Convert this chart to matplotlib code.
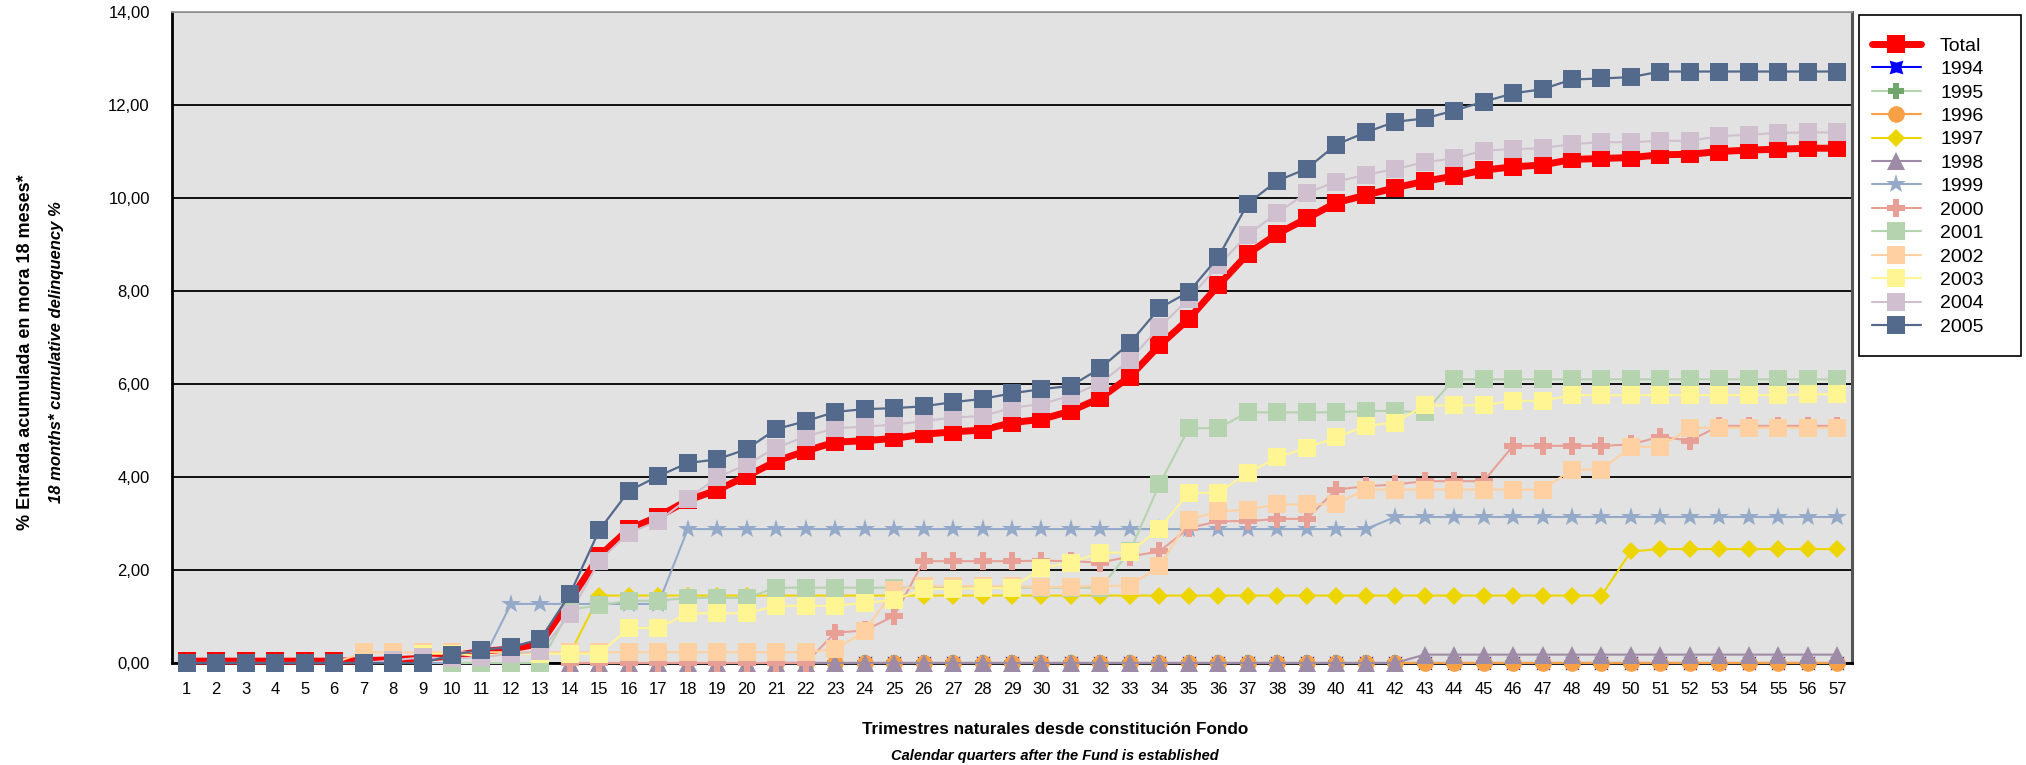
import numpy as np
import matplotlib
matplotlib.use("Agg")
import matplotlib.pyplot as plt
from matplotlib.patches import Rectangle

plt.rcParams['font.family'] = ['Liberation Sans', 'DejaVu Sans']

nan = np.nan
quarters = list(range(1, 58))

total = [0.04, 0.04, 0.04, 0.04, 0.04, 0.04, 0.05, 0.07, 0.10, 0.15,
         0.25, 0.30, 0.42, 1.35, 2.30, 2.88, 3.15, 3.50, 3.72, 4.02,
         4.34, 4.56, 4.75, 4.78, 4.83, 4.92, 4.97, 5.01, 5.17, 5.24,
         5.42, 5.70, 6.16, 6.83, 7.40, 8.12, 8.80, 9.23, 9.56, 9.90,
         10.06, 10.22, 10.36, 10.47, 10.60, 10.67, 10.71, 10.83, 10.85, 10.87,
         10.93, 10.94, 11.00, 11.03, 11.05, 11.07, 11.07]

y1994 = [nan] * 20 + [0.0] * 37
y1995 = [nan] * 20 + [0.0] * 37
y1996 = [nan] * 20 + [0.0] * 37
y1997 = [nan] * 13 + [0.20, 1.45] + [1.45] * 34 + [2.40] + [2.45] * 7
y1998 = [nan] * 13 + [0.0] * 29 + [0.18] * 15
y1999 = [0.0] * 11 + [1.27] * 6 + [2.88] * 24 + [3.14] * 16
y2000 = ([nan] * 13 + [0.0] * 9 +
         [0.65, 0.70, 1.01, 2.19, 2.19, 2.19, 2.19, 2.20, 2.19, 2.16,
          2.29, 2.40, 2.90, 3.05, 3.05, 3.10, 3.10, 3.73, 3.80, 3.84,
          3.91, 3.91, 3.91, 4.67, 4.67, 4.67, 4.67, 4.70, 4.87, 4.78,
          5.10, 5.10, 5.10, 5.10, 5.10])
y2001 = ([nan] * 9 + [0.0] * 4 +
         [1.15, 1.24, 1.34, 1.34, 1.40, 1.40, 1.40, 1.62, 1.62, 1.62,
          1.62, 1.62, 1.62, 1.62, 1.62, 1.62, 1.62, 1.62, 1.62, 2.40,
          3.84, 5.05, 5.05, 5.39, 5.39, 5.39, 5.39, 5.42, 5.42, 5.39] +
         [6.10] * 14)
y2002 = ([nan] * 5 + [0.0] + [0.23] * 16 +
         [0.30, 0.68, 1.58, 1.65, 1.65, 1.65, 1.65, 1.63, 1.64, 1.66,
          1.66, 2.08, 3.08, 3.26, 3.30, 3.41, 3.41, 3.42, 3.73, 3.73,
          3.73, 3.73, 3.73, 3.73, 3.73, 4.16, 4.16, 4.65, 4.65, 5.06,
          5.06, 5.06, 5.06, 5.06, 5.06])
y2003 = ([nan] * 8 +
         [0.20, 0.20, 0.15, 0.20, 0.20, 0.20, 0.20, 0.75, 0.75, 1.07,
          1.07, 1.07, 1.23, 1.23, 1.23, 1.29, 1.36, 1.59, 1.59, 1.61,
          1.61, 2.04, 2.16, 2.37, 2.38, 2.89, 3.66, 3.66, 4.09, 4.42,
          4.63, 4.85, 5.10, 5.17, 5.54, 5.54, 5.54, 5.64, 5.64, 5.76,
          5.76, 5.76, 5.76, 5.76, 5.76, 5.76, 5.76, 5.78, 5.78])
y2004 = [0.0, 0.0, 0.0, 0.0, 0.0, 0.0, 0.0, 0.06, 0.12, 0.10,
         0.12, 0.20, 0.25, 1.05, 2.20, 2.80, 3.05, 3.53, 3.99, 4.27,
         4.63, 4.87, 5.05, 5.08, 5.13, 5.20, 5.28, 5.31, 5.49, 5.57,
         5.75, 6.02, 6.52, 7.22, 7.83, 8.55, 9.21, 9.68, 10.11, 10.35,
         10.50, 10.62, 10.77, 10.85, 11.02, 11.05, 11.07, 11.16, 11.20, 11.20,
         11.23, 11.23, 11.33, 11.36, 11.40, 11.41, 11.41]
y2005 = [0.0, 0.0, 0.0, 0.0, 0.0, 0.0, 0.0, 0.0, 0.0, 0.17,
         0.29, 0.34, 0.51, 1.48, 2.86, 3.70, 4.02, 4.30, 4.38, 4.60,
         5.03, 5.20, 5.40, 5.46, 5.48, 5.52, 5.61, 5.68, 5.80, 5.89,
         5.96, 6.34, 6.88, 7.63, 7.98, 8.73, 9.88, 10.37, 10.63, 11.15,
         11.41, 11.64, 11.71, 11.88, 12.07, 12.25, 12.34, 12.55, 12.57, 12.60,
         12.72, 12.72, 12.72, 12.72, 12.72, 12.72, 12.72]

series_names = ['Total', '1994', '1995', '1996', '1997', '1998', '1999',
                '2000', '2001', '2002', '2003', '2004', '2005']
series_values = [total, y1994, y1995, y1996, y1997, y1998, y1999,
                 y2000, y2001, y2002, y2003, y2004, y2005]

styles = {
    'Total': dict(color='#FF0000', marker='s', mfc='#FF0000', ms=13, lw=5.0),
    '1994': dict(color='#0000FF', marker=(4, 1, 45), mfc='#0000FF', ms=14, lw=1.5),
    '1995': dict(color='#B5D5AF', marker='P', mfc='#73A66C', ms=12, lw=1.5),
    '1996': dict(color='#F7A045', marker='o', mfc='#F7A045', ms=12, lw=1.5),
    '1997': dict(color='#EDD500', marker='D', mfc='#EDD500', ms=9, lw=1.5),
    '1998': dict(color='#9E8BA5', marker='^', mfc='#9E8BA5', ms=13, lw=1.5),
    '1999': dict(color='#95A9C8', marker='*', mfc='#95A9C8', ms=15, lw=1.5),
    '2000': dict(color='#E8A096', marker='P', mfc='#E8A096', ms=13, lw=1.5),
    '2001': dict(color='#B5D3AE', marker='s', mfc='#B5D3AE', ms=13, lw=1.5),
    '2002': dict(color='#FFD1A2', marker='s', mfc='#FFD1A2', ms=13, lw=1.5),
    '2003': dict(color='#FFF592', marker='s', mfc='#FFF592', ms=13, lw=1.5),
    '2004': dict(color='#D0BFCF', marker='s', mfc='#D0BFCF', ms=13, lw=1.5),
    '2005': dict(color='#536A8C', marker='s', mfc='#536A8C', ms=13, lw=1.6),
}

W, H = 2026, 765
fig = plt.figure(figsize=(W / 100, H / 100), dpi=100)
L, R, T, B = 172, 1852, 12, 663
ax = fig.add_axes([L / W, (H - B) / H, (R - L) / W, (B - T) / H])
ax.set_facecolor('#E2E2E2')

handles = []
for z, (name, vals) in enumerate(zip(series_names, series_values)):
    st = styles[name]
    ln, = ax.plot(quarters, vals, color=st['color'], lw=st['lw'],
                  marker=st['marker'], markersize=st['ms'],
                  markerfacecolor=st['mfc'], markeredgecolor=st['mfc'],
                  markeredgewidth=0, zorder=3 + z, clip_on=False,
                  solid_joinstyle='round', solid_capstyle='round',
                  label=name)
    handles.append(ln)

ax.set_xlim(0.5, 57.5)
ax.set_ylim(0, 14)
yt = np.arange(0, 14.01, 2)
ax.set_yticks(yt)
ax.set_yticklabels([('%.2f' % v).replace('.', ',') for v in yt])
ax.set_xticks(quarters)
ax.set_xticklabels([str(q) for q in quarters])
ax.tick_params(axis='both', length=0, labelsize=12, colors='black')
ax.tick_params(axis='x', pad=14)
ax.tick_params(axis='y', pad=16)
ax.yaxis.grid(True, color='#000000', lw=1.3, zorder=1)
ax.set_axisbelow(True)
for s in ['left', 'bottom']:
    ax.spines[s].set_color('black')
    ax.spines[s].set_linewidth(2)
ax.spines['top'].set_color('#9A9A9A')
ax.spines['top'].set_linewidth(1.3)
ax.spines['right'].set_color('#555555')
ax.spines['right'].set_linewidth(2.2)

fig.text(1055 / W, 1 - 730 / H, 'Trimestres naturales desde constitución Fondo',
         ha='center', va='center', fontsize=12.3, fontweight='bold')
fig.text(1055 / W, 1 - 756 / H, 'Calendar quarters after the Fund is established',
         ha='center', va='center', fontsize=10.5, fontweight='bold', style='italic')
fig.text(26 / W, 1 - 352 / H, '% Entrada acumulada en mora 18 meses*',
         ha='center', va='center', rotation=90, fontsize=13, fontweight='bold')
fig.text(57 / W, 1 - 352 / H, '18 months* cumulative delinquency %',
         ha='center', va='center', rotation=90, fontsize=12, fontweight='bold',
         style='italic')

fig.patches.append(Rectangle((1859 / W, 1 - 356 / H), (2021 - 1859) / W, (356 - 15) / H,
                             transform=fig.transFigure, facecolor='white',
                             edgecolor='black', lw=1.2, zorder=0))
leg = fig.legend(handles=handles, labels=series_names, loc='upper left',
                 bbox_to_anchor=(1872 / W, 1 - 37 / H), bbox_transform=fig.transFigure,
                 frameon=False, fontsize=14, borderpad=0, borderaxespad=0,
                 handlelength=2.5, handletextpad=1.0, labelspacing=0.3,
                 markerscale=1.0)

fig.savefig('out.png', dpi=100, facecolor='white')
